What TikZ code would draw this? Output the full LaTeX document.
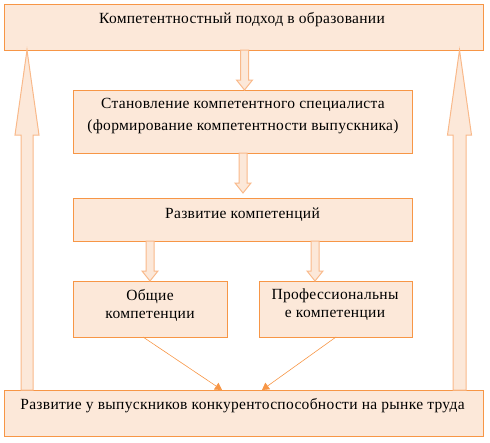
\documentclass[tikz,border=0pt]{standalone}
\usepackage{fontspec}
\setmainfont{Liberation Serif}[LetterSpace=2]
\usetikzlibrary{calc,arrows.meta}
\definecolor{boxfill}{HTML}{FCE8D9}
\definecolor{boxline}{HTML}{F79646}
\definecolor{arrline}{HTML}{F9B98A}
\tikzset{
  box/.style={draw=boxline, fill=boxfill, line width=1pt, inner sep=0pt, outer sep=0pt, rectangle},
  txt/.style={font=\fontsize{15.5}{20}\selectfont, align=center, inner sep=0pt},
  blockarrow/.style={draw=arrline, fill=boxfill, line width=1pt, line join=miter},
  thinarrow/.style={draw=boxline, line width=0.6pt, -{Triangle[width=8pt,length=7pt]}}
}
% #1 start coordinate, #2 tip coordinate, #3 shaft half width, #4 head half width, #5 signed head length
\newcommand{\vblockarrow}[5]{%
  \path[blockarrow] let \p1=(#1), \p2=(#2) in
    (\x2-#3,\y1) -- (\x2-#3,\y2+#5) -- (\x2-#4,\y2+#5) -- (\x2,\y2)
    -- (\x2+#4,\y2+#5) -- (\x2+#3,\y2+#5) -- (\x2+#3,\y1) -- cycle;}
\begin{document}
\begin{tikzpicture}[x=1pt,y=-1pt]
\useasboundingbox (0,0) rectangle (490,442);
% boxes
\node[box, minimum width=479pt, minimum height=46pt] (top) at (243.5,27) {};
\node[box, minimum width=339pt, minimum height=63pt] (spec) at (242.5,121.5) {};
\node[box, minimum width=339pt, minimum height=43pt] (dev) at (242.5,219.5) {};
\node[box, minimum width=154pt, minimum height=56pt] (gen) at (150,309) {};
\node[box, minimum width=153pt, minimum height=56pt] (prof) at (335.5,309) {};
\node[box, minimum width=479pt, minimum height=46pt] (bot) at (243.5,413) {};
% texts
\node[txt] (toptxt) at (242,20) {Компетентностный подход в образовании};
\node[txt, font=\fontsize{15.5}{21.5}\selectfont] (spectxt) at (243,116) {Становление компетентного специалиста\\(формирование компетентности выпускника)};
\node[txt] (devtxt) at (242.5,215) {Развитие компетенций};
\node[txt, font=\fontsize{15.5}{18}\selectfont] (gentxt) at (150,305) {Общие\\компетенции};
\node[txt, font=\fontsize{15.5}{18}\selectfont] (proftxt) at (335,305) {Профессиональны\\е компетенции};
\node[txt] (bottxt) at (242.5,406) {Развитие у выпускников конкурентоспособности на рынке труда};
% coordinates for block arrows
\coordinate (a1s) at (244.5,50);  \coordinate (a1t) at (244.5,90);
\coordinate (a2s) at (243,153);   \coordinate (a2t) at (243,193);
\coordinate (a3s) at (150,241);   \coordinate (a3t) at (150,281);
\coordinate (a4s) at (315,241);   \coordinate (a4t) at (315,281);
\coordinate (l1s) at (27,390);    \coordinate (l1t) at (27,50);
\coordinate (r1s) at (459.5,390); \coordinate (r1t) at (459.5,50);
\vblockarrow{a1s}{a1t}{4pt}{8pt}{10pt}
\vblockarrow{a2s}{a2t}{4pt}{8pt}{10pt}
\vblockarrow{a3s}{a3t}{4pt}{8pt}{10pt}
\vblockarrow{a4s}{a4t}{4pt}{8pt}{10pt}
\vblockarrow{l1s}{l1t}{6pt}{12pt}{-85pt}
\vblockarrow{r1s}{r1t}{6.5pt}{12pt}{-85pt}
% thin arrows
\coordinate (g1) at (143,337); \coordinate (g2) at (222,390);
\coordinate (p1) at (336,337); \coordinate (p2) at (262,390);
\draw[thinarrow] (g1) -- (g2);
\draw[thinarrow] (p1) -- (p2);
\end{tikzpicture}
\end{document}
